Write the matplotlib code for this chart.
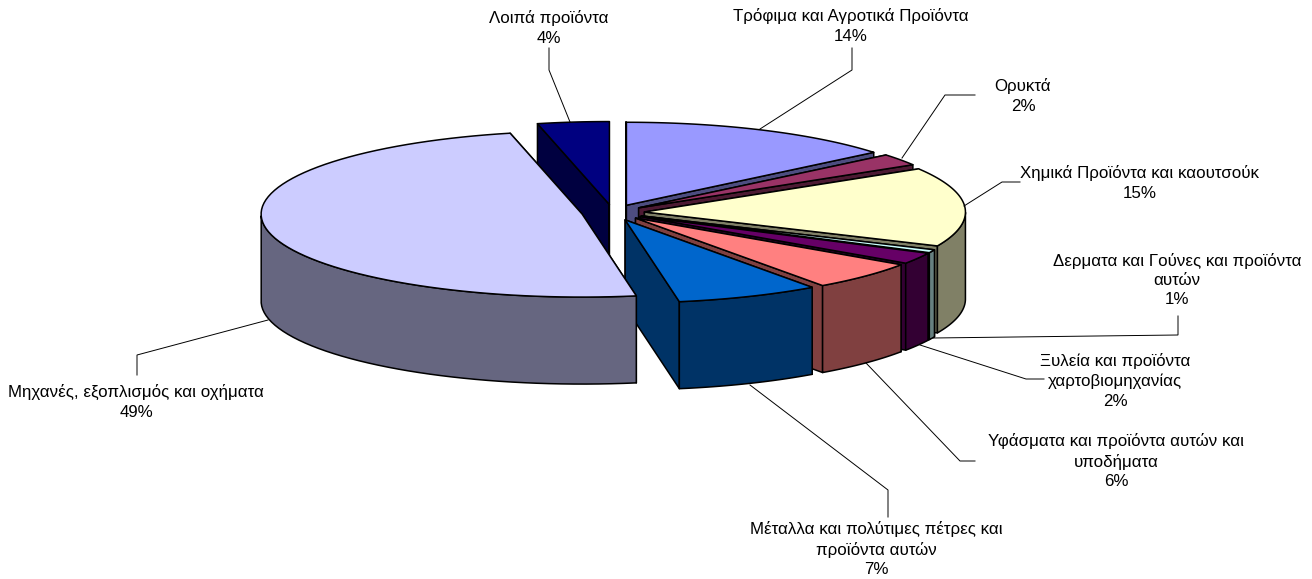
import numpy as np
import matplotlib
matplotlib.use("Agg")
import matplotlib.pyplot as plt
from matplotlib.patches import Polygon

labels = [
    "Τρόφιμα και Αγροτικά Προϊόντα",
    "Ορυκτά",
    "Χημικά Προϊόντα και καουτσούκ",
    "Δερματα και Γούνες και προϊόντα\nαυτών",
    "Ξυλεία και προϊόντα\nχαρτοβιομηχανίας",
    "Υφάσματα και προϊόντα αυτών και\nυποδήματα",
    "Μέταλλα και πολύτιμες πέτρες και\nπροϊόντα αυτών",
    "Μηχανές, εξοπλισμός και οχήματα",
    "Λοιπά προϊόντα",
]
shares = [14.0, 2.3, 15.4, 0.6, 2.2, 5.6, 7.2, 49.1, 3.6]
colors = ["#9999FF", "#993366", "#FFFFCC", "#CCFFFF", "#660066",
          "#FF8080", "#0066CC", "#CCCCFF", "#000080"]
side_colors = ["#4D4D80", "#4D1A33", "#808066", "#668080", "#330033",
               "#804040", "#003366", "#666680", "#000040"]

# label centres and leader lines, in figure pixels
label_pos = [(851, 26), (1023, 96), (1140, 183), (1177, 280), (1115, 381),
             (1116, 461), (876, 549), (136, 402), (549, 28)]
leaders = [
    [(852, 48), (852, 70), (760, 129)],
    [(975, 95), (945, 95), (902, 158)],
    [(1020, 182), (1002, 182), (964, 206)],
    [(1178, 316), (1178, 335), (933, 338)],
    [(1044, 379), (1026, 379), (920, 345)],
    [(975, 461), (960, 461), (866, 363)],
    [(888, 517), (888, 490), (750, 385)],
    [(137, 375), (137, 355), (268, 320)],
    [(549, 48), (549, 70), (570, 122)],
]

CX, CY = 613, 212.5      # pie centre
RX, RY = 321, 83         # top ellipse radii
EX, EY = 31.5, 8         # explosion
DEPTH = 87


def point(ax0, ay0, a):
    return ax0 + RX * np.sin(a), ay0 - RY * np.cos(a)


def draw_slice(ax, start, end, color, side):
    mid = (start + end) / 2
    x0 = CX + EX * np.sin(mid)
    y0 = CY - EY * np.cos(mid)
    arc = np.linspace(start, end, 80)
    ax_, ay_ = point(x0, y0, arc)
    style = dict(edgecolor="black", linewidth=1.1, joinstyle="round")

    # cut faces first, the top of the slice hides what faces backwards
    for a in (start, end):
        px, py = point(x0, y0, a)
        face = [(x0, y0), (px, py), (px, py + DEPTH), (x0, y0 + DEPTH)]
        ax.add_patch(Polygon(face, facecolor=side, **style))

    # outer wall, only the front half shows
    front = arc[np.cos(arc) < 0]
    if len(front) > 1:
        fx, fy = point(x0, y0, front)
        wall = list(zip(fx, fy)) + list(zip(fx[::-1], fy[::-1] + DEPTH))
        ax.add_patch(Polygon(wall, facecolor=side, **style))

    top = [(x0, y0)] + list(zip(ax_, ay_))
    ax.add_patch(Polygon(top, facecolor=color, **style))


def main():
    fig = plt.figure(figsize=(13.12, 5.79), dpi=100)
    ax = fig.add_axes([0, 0, 1, 1])
    ax.set_xlim(0, 1312)
    ax.set_ylim(579, 0)
    ax.axis("off")

    edges = np.cumsum([0] + shares) / sum(shares) * 2 * np.pi

    # back slice goes first, the rest clockwise
    order = [8] + list(range(8))
    for i in order:
        draw_slice(ax, edges[i], edges[i + 1], colors[i], side_colors[i])

    for line in leaders:
        xs, ys = zip(*line)
        ax.plot(xs, ys, color="black", lw=0.7, solid_joinstyle="miter")

    for name, share, pos in zip(labels, shares, label_pos):
        ax.text(pos[0], pos[1], f"{name}\n{round(share)}%", ha="center", va="center",
                multialignment="center", family="Liberation Sans",
                fontsize=12.2, linespacing=1.35, color="black")

    fig.savefig("out.png", dpi=100, facecolor="white")


if __name__ == "__main__":
    main()
